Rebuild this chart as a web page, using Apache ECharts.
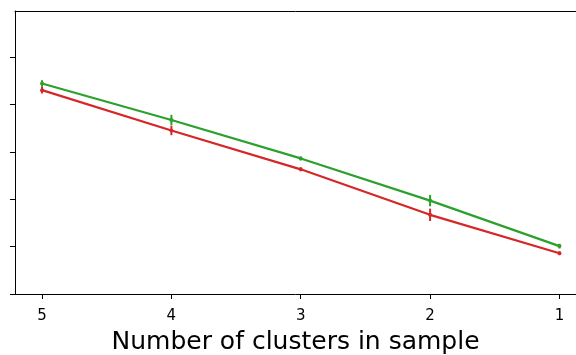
<!DOCTYPE html>
<html>
<head>
<meta charset="utf-8">
<script src="https://cdn.jsdelivr.net/npm/echarts@6/dist/echarts.min.js"></script>
<style>html,body{margin:0;padding:0;background:#fff;}#c{width:576px;height:355px;}</style>
</head>
<body>
<div id="c"></div>
<script>
const clusters = [5, 4, 3, 2, 1];
const greenMean = [4.44, 3.67, 2.86, 1.97, 1.01];
const greenErr  = [0.07, 0.11, 0.04, 0.12, 0.05];
const redMean   = [4.30, 3.45, 2.63, 1.67, 0.86];
const redErr    = [0.07, 0.10, 0.04, 0.13, 0.04];
const yTicks = [0, 1, 2, 3, 4, 5];
const xLabel = 'Number of clusters in sample';

const GREEN = '#2ca02c', RED = '#d62728';

function lineData(mean) { return clusters.map((c, i) => [c, mean[i]]); }
function errData(mean, err) { return clusters.map((c, i) => [c, mean[i] - err[i], mean[i] + err[i]]); }
function errSeries(mean, err, color) {
  return {
    type: 'custom',
    data: errData(mean, err),
    encode: { x: 0, y: [1, 2] },
    z: 3,
    renderItem: function (params, api) {
      const x = api.value(0);
      const p1 = api.coord([x, api.value(1)]);
      const p2 = api.coord([x, api.value(2)]);
      return {
        type: 'line',
        shape: { x1: p1[0], y1: p1[1], x2: p2[0], y2: p2[1] },
        style: { stroke: color, lineWidth: 2 }
      };
    }
  };
}

const XMIN = 0.872, XMAX = 5.209;
const chart = echarts.init(document.getElementById('c'), null, { renderer: 'canvas' });
chart.setOption({
  animation: false,
  backgroundColor: '#fff',
  grid: { left: 15, right: 0, top: 11, bottom: 61, containLabel: false, outerBoundsMode: 'none' },
  xAxis: [{
    type: 'value', inverse: true, min: XMIN, max: XMAX,
    name: xLabel, nameLocation: 'middle', nameGap: 36,
    nameTextStyle: { fontFamily: 'DejaVu Sans', fontSize: 25, color: '#000' },
    axisLine: { show: true, lineStyle: { color: '#000', width: 1 } },
    axisTick: { show: true, customValues: clusters, length: 5, lineStyle: { color: '#000' } },
    axisLabel: { show: true, customValues: clusters, margin: 15, fontFamily: 'DejaVu Sans', fontSize: 15, color: '#000' },
    splitLine: { show: false }
  }, {
    type: 'value', position: 'top', inverse: true, min: XMIN, max: XMAX,
    axisLine: { show: true, onZero: false, lineStyle: { color: '#000', width: 1 } },
    axisTick: { show: false }, axisLabel: { show: false }, splitLine: { show: false }
  }],
  yAxis: {
    type: 'value', min: 0, max: 5.97,
    axisLine: { show: true, lineStyle: { color: '#000', width: 1 } },
    axisTick: { show: true, customValues: yTicks, length: 5, lineStyle: { color: '#000' } },
    axisLabel: { show: false },
    splitLine: { show: false }
  },
  series: [
    { type: 'line', data: lineData(greenMean), color: GREEN, lineStyle: { width: 2.2, color: GREEN }, symbol: 'circle', symbolSize: 4, itemStyle: { color: GREEN }, z: 2 },
    { type: 'line', data: lineData(redMean), color: RED, lineStyle: { width: 2.2, color: RED }, symbol: 'circle', symbolSize: 4, itemStyle: { color: RED }, z: 2 },
    errSeries(greenMean, greenErr, GREEN),
    errSeries(redMean, redErr, RED)
  ]
});
</script>
</body>
</html>
